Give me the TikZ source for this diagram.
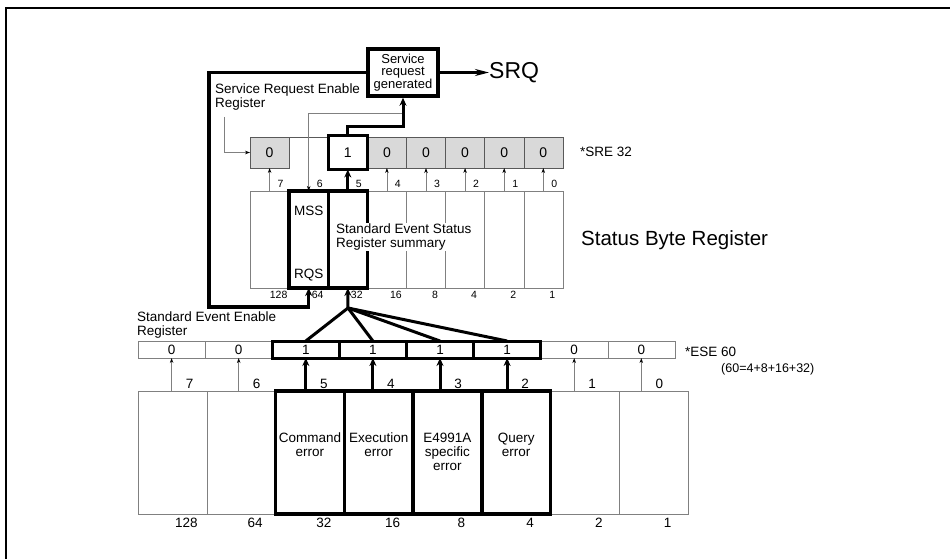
\documentclass[tikz,border=0pt]{standalone}
\usepackage{fontspec}
\setmainfont{Liberation Sans}
\usetikzlibrary{arrows.meta,positioning}
\tikzset{
  cell/.style={draw=gray, inner sep=0pt, outer sep=0pt},
  srecell/.style={cell, draw=gray!70!black, fill=gray!30, minimum width=39.1pt, minimum height=31pt, font=\fontsize{14}{15}\selectfont},
  sbrcell/.style={cell, minimum width=39.1pt, minimum height=97pt},
  esecell/.style={cell, minimum width=67.1pt, minimum height=17pt, font=\fontsize{13.5}{14}\selectfont},
  esrcell/.style={cell, minimum width=68.75pt, minimum height=123pt},
  boldbox/.style={draw, line width=3.5pt},
  boldline/.style={line width=3.5pt},
  thinarrow/.style={draw=gray, line width=0.8pt, -{Stealth[length=5pt,width=3.5pt,color=black]}},
  thickarrow/.style={line width=3pt, -{Stealth[length=8pt,width=7pt]}},
  txt/.style={inner sep=0pt, font=\fontsize{13.5}{13.5}\selectfont},
  smallnum/.style={inner sep=0pt, font=\fontsize{10.5}{11}\selectfont},
  bignum/.style={inner sep=0pt, font=\fontsize{13.5}{14}\selectfont},
  errtext/.style={inner sep=0pt, align=center, font=\fontsize{13.5}{14}\selectfont}
}
\begin{document}
\begin{tikzpicture}[x=1pt,y=-1pt]
\useasboundingbox (0,0) rectangle (950,559);
% frame
\draw[line width=1.4pt] (6,559) -- (6,8) -- (950,8);

% service request
\node[boldbox, minimum width=70pt, minimum height=47pt, inner sep=0pt, align=center, font=\fontsize{13}{12.5}\selectfont] (srg) at (403,72.5) {Service\\request\\generated};
\node[inner sep=0pt, anchor=west, font=\fontsize{23}{24}\selectfont] (srq) at (489,73) {SRQ};
\draw[line width=3pt, -{Stealth[length=14pt,width=7pt]}] (srg.east) -- (srg.east -| srq.west);

% service request enable register
\node[txt, anchor=west, align=left] (srelabel) at (215,97) {Service Request Enable\\Register};
\foreach \b/\v in {7/0,4/0,3/0,2/0,1/0,0/0}
  \node[srecell] (sre\b) at ({269.6+(7-\b)*39.1},152.5) {\v};
\node[cell, draw=none, minimum width=39.1pt, minimum height=31pt] (sre6) at ({269.6+39.1},152.5) {};
\draw[gray!70!black, line width=0.8pt] (sre7.north west) -- (sre6.north east);
\node[boldbox, inner sep=0pt, outer sep=0pt, minimum width=39.1pt, minimum height=34pt, fill=white, font=\fontsize{14}{15}\selectfont] (sre5) at ({269.6+2*39.1},152.5) {1};
\node[txt, anchor=west] (srevalue) at (580,152) {*SRE 32};
\coordinate (sretag) at (224,117);
\draw[thinarrow] (sretag) |- (sre7.west);

% status byte register
\foreach \b/\w in {7/128,6/64,5/32,4/16,3/8,2/4,1/2,0/1}{
  \node[sbrcell] (sbr\b) at ({269.6+(7-\b)*39.1},239.5) {};
  \node[smallnum] (sbrw\b) at ({269.6+(7-\b)*39.1+9},294.5) {\w};
  \node[smallnum] (sbrn\b) at ({269.6+(7-\b)*39.1+11},183.5) {\b};
}
\draw[boldbox] (sbr6.north west) rectangle (sbr6.south east);
\draw[boldbox] (sbr5.north west) rectangle (sbr5.south east);
\node[txt] (mss) at (sbr6.center |- 0,211) {MSS};
\node[txt] (rqs) at (sbr6.center |- 0,275) {RQS};
\node[txt, anchor=west, align=left, fill=white, inner sep=1pt] (sessum) at (335,237) {Standard Event Status\\Register summary};
\node[inner sep=0pt, anchor=west, font=\fontsize{20.5}{21}\selectfont] (sbrtitle) at (581,240) {Status Byte Register};

% summary paths between SRE and status byte
\foreach \b in {7,4,3,2,1,0}
  \draw[thinarrow] (sbr\b.north) -- (sre\b.south);
\coordinate (msstap) at (403,113);
\coordinate (bend) at (403,127);
\draw[thinarrow] (msstap) -| (sbr6.north);
\draw[thickarrow] (sbr5.north) -- (sre5.south);
\draw[thickarrow] (sre5.north) |- (bend) -- (srg.south);
\coordinate (loopc) at (209,307);
\draw[boldline, -{Stealth[length=8pt,width=7pt]}] (srg.west) -| (loopc) -| (sbr6.south);

% standard event enable register
\node[txt, anchor=west, align=left] (eselabel) at (137,325) {Standard Event Enable\\Register};
\foreach \b/\v in {7/0,6/0,5/1,4/1,3/1,2/1,1/0,0/0}
  \node[esecell] (ese\b) at ({171.6+(7-\b)*67.1},349.5) {\v};
\foreach \b in {5,...,2}
  \draw[boldbox, line width=3pt] (ese\b.north west) rectangle (ese\b.south east);
\node[txt, anchor=west] (esevalue) at (685,352) {*ESE 60};
\node[txt, anchor=west, font=\fontsize{12.5}{13}\selectfont] (esesum) at (721,369) {(60=4+8+16+32)};
\coordinate (fan) at (348,308);
\foreach \b in {5,...,2}
  \draw[line width=3pt] (fan) -- (ese\b.north);
\draw[thickarrow] (fan) -- (sbr5.south);

% standard event status register
\foreach \b/\w in {7/128,6/64,5/32,4/16,3/8,2/4,1/2,0/1}{
  \node[esrcell] (esr\b) at ({172.4+(7-\b)*68.75},452.5) {};
  \node[bignum] (esrw\b) at ({172.4+(7-\b)*68.75+14},523) {\w};
  \node[bignum] (esrn\b) at ({171.6+(7-\b)*67.1+18},384) {\b};
}
\foreach \b in {5,...,2}
  \draw[boldbox] (esr\b.north west) rectangle (esr\b.south east);
\foreach \b in {7,6,1,0}
  \draw[thinarrow] (esr\b.north -| ese\b.south) -- (ese\b.south);
\foreach \b in {5,...,2}
  \draw[thickarrow] (esr\b.north -| ese\b.south) -- (ese\b.south);
\node[errtext, below=42pt of esr5.north] (cmderr) {Command\\error};
\node[errtext, below=42pt of esr4.north] (exeerr) {Execution\\error};
\node[errtext, below=42pt of esr3.north] (deverr) {E4991A\\specific\\error};
\node[errtext, below=42pt of esr2.north] (qryerr) {Query\\error};
\end{tikzpicture}
\end{document}
